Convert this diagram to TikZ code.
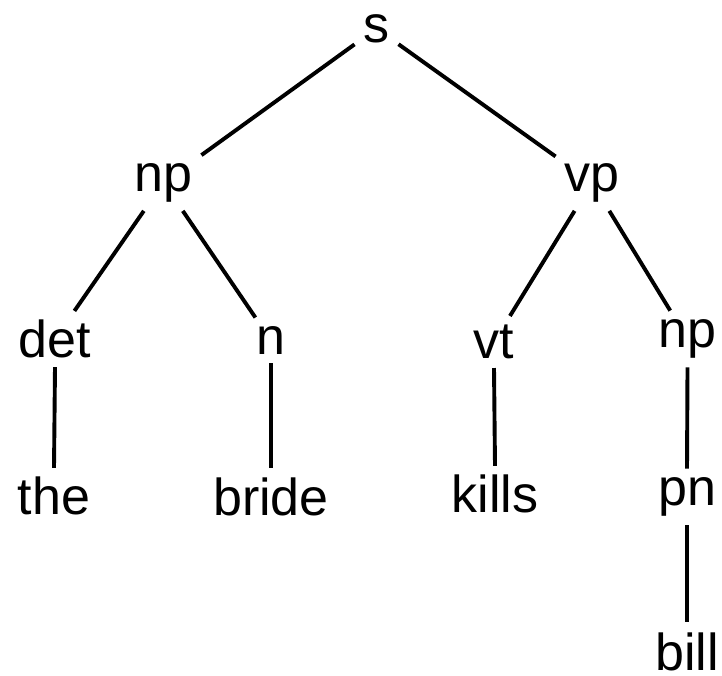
\documentclass[tikz,border=0pt]{standalone}
\usepackage{fontspec}
\setmainfont{Liberation Sans}
\begin{document}
\begin{tikzpicture}[x=1pt,y=-1pt,
  lab/.style={font=\fontsize{52}{60}\selectfont, inner sep=9pt, outer sep=0pt},
  edge/.style={line width=3.9pt}]
\useasboundingbox (0,0) rectangle (722,676);
\node[lab] (s)     at (376.5,28.5) {s};
\node[lab] (np1)   at (163.5,182.5) {np};
\node[lab] (vp)    at (592,182.5) {vp};
\node[lab] (det)   at (55,339) {det};
\node[lab] (n)     at (271,340.5) {n};
\node[lab] (vt)    at (494,342) {vt};
\node[lab] (np2)   at (687.5,339) {np};
\node[lab] (the)   at (54,496) {the};
\node[lab] (bride) at (271,496.5) {bride};
\node[lab] (kills) at (495,494) {kills};
\node[lab] (pn)    at (687,497) {pn};
\node[lab, inner xsep=2pt, inner ysep=2pt] (bill) at (687,652) {bill};
\draw[edge] (s) -- (np1);
\draw[edge] (s) -- (vp);
\draw[edge] (np1) -- (det);
\draw[edge] (np1) -- (n);
\draw[edge] (vp) -- (vt);
\draw[edge] (vp) -- (np2);
\draw[edge] (det.south) -- (the.north);
\draw[edge] (n.south) -- (bride.north);
\draw[edge] (vt.south) -- (kills.north);
\draw[edge] (np2.south) -- (pn.north);
\draw[edge, shorten >=9pt] (pn.south) -- (bill.north);
\end{tikzpicture}
\end{document}
